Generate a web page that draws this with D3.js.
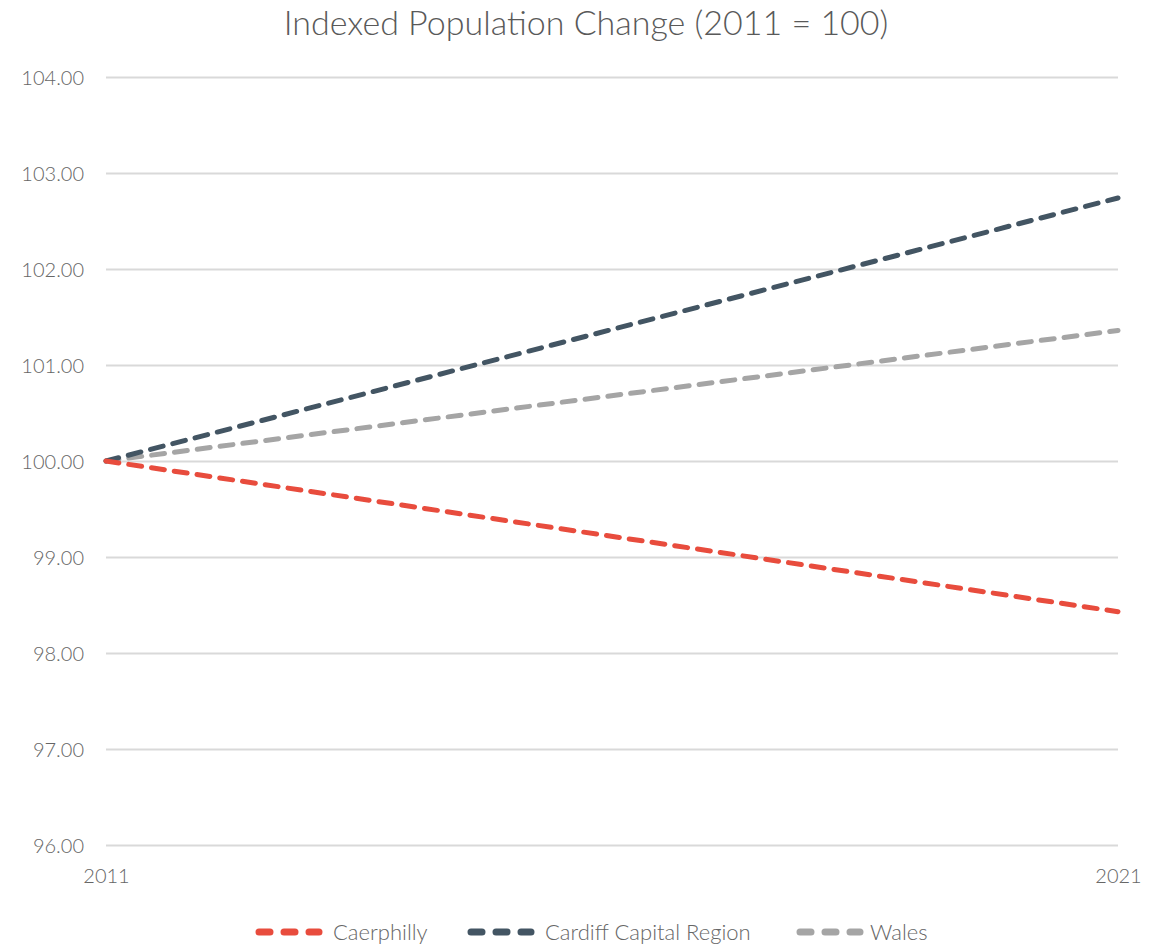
<!DOCTYPE html>
<html>
<head>
<meta charset="utf-8">
<script src="https://cdn.jsdelivr.net/npm/d3@7"></script>
<style>
  html, body { margin: 0; padding: 0; background: #fff; }
  svg text { font-family: Lato, "Open Sans", sans-serif; font-weight: 300; }
</style>
</head>
<body>
<svg id="chart" width="1162" height="949"></svg>
<script>
// Indexed population, 2011 = 100
const years = [2011, 2021];
const caerphilly = [100, 98.43];
const cardiffCapitalRegion = [100, 102.74];
const wales = [100, 101.36];
const yTicks = [96, 97, 98, 99, 100, 101, 102, 103, 104];
const seriesNames = ["Caerphilly", "Cardiff Capital Region", "Wales"];
const seriesColors = ["#E84C3D", "#435563", "#A5A5A5"];

const series = [caerphilly, cardiffCapitalRegion, wales].map((vals, i) => ({
  name: seriesNames[i],
  color: seriesColors[i],
  points: vals.map((v, j) => ({ year: years[j], value: v }))
}));

const svg = d3.select("#chart");
const margin = { left: 106, right: 44, top: 77, bottom: 104 };
const W = 1162, H = 949;

const x = d3.scaleLinear().domain([2011, 2021]).range([margin.left, W - margin.right]);
const y = d3.scaleLinear().domain([96, 104]).range([H - margin.bottom, margin.top]);

// Title
svg.append("text")
  .attr("x", 586).attr("y", 35)
  .attr("text-anchor", "middle")
  .attr("font-size", 34)
  .attr("fill", "#595959")
  .text("Indexed Population Change (2011 = 100)");

// Horizontal grid
const yAxis = d3.axisLeft(y).tickValues(yTicks)
  .tickSize(-(x.range()[1] - x.range()[0]))
  .tickPadding(22)
  .tickFormat(d3.format(".2f"));
const gy = svg.append("g").attr("transform", `translate(${margin.left},0)`).call(yAxis);
gy.select(".domain").remove();
gy.selectAll(".tick line").attr("stroke", "#d9d9d9").attr("stroke-width", 2);
gy.selectAll(".tick text").attr("fill", "#666").attr("font-size", 20).attr("dy", "0.35em");

// X axis labels
const xAxis = d3.axisBottom(x).tickValues(years).tickFormat(d3.format("d")).tickSize(0).tickPadding(24);
const gx = svg.append("g").attr("transform", `translate(0,${H - margin.bottom})`).call(xAxis);
gx.select(".domain").remove();
gx.selectAll(".tick text").attr("fill", "#666").attr("font-size", 20);

// Lines
const line = d3.line().x(d => x(d.year)).y(d => y(d.value));
svg.append("g").selectAll("path")
  .data(series.slice().reverse())
  .join("path")
  .attr("d", d => line(d.points))
  .attr("fill", "none")
  .attr("stroke", d => d.color)
  .attr("stroke-width", 5)
  .attr("stroke-linecap", "round")
  .attr("stroke-dasharray", "13,10");

// Legend
const legendX = [255, 467, 796];
const lg = svg.append("g").selectAll("g")
  .data(series)
  .join("g")
  .attr("transform", (d, i) => `translate(${legendX[i]},932)`);
lg.append("line")
  .attr("x1", 4).attr("x2", 64).attr("y1", 0).attr("y2", 0)
  .attr("stroke", d => d.color)
  .attr("stroke-width", 7)
  .attr("stroke-linecap", "round")
  .attr("stroke-dasharray", "11,14");
lg.append("text")
  .attr("x", d => d.name === "Wales" ? 74 : 78).attr("y", 0).attr("dy", "0.35em")
  .attr("font-size", 22)
  .attr("fill", "#666")
  .text(d => d.name);
</script>
</body>
</html>
